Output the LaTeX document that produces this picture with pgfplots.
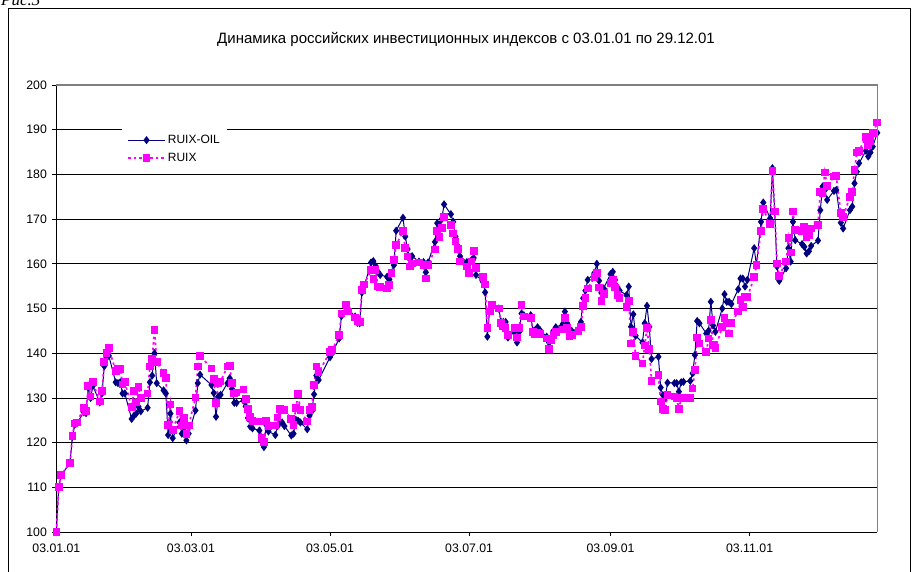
\documentclass[border=0pt]{standalone}
\usepackage{fontspec}
\setmainfont{Liberation Sans}
\newfontfamily\seriffont{Liberation Serif}
\usepackage{pgfplots}
\usepackage{pgfplotstable}
\pgfplotsset{compat=1.18}
\definecolor{oil}{RGB}{0,0,128}
\definecolor{ruix}{RGB}{255,0,255}
\definecolor{pgray}{RGB}{128,128,128}

\pgfplotstableread{
day oil ruix
0 100 100
1 110 110
2 112.6 112.7
6 115.5 115.5
7 121.3 121.4
8 124.0 124.3
9 124.3 124.5
12 126.8 127.7
13 126.6 127.0
14 132.3 132.7
15 130.0 130.3
16 132.7 133.5
19 129.0 129.2
20 131.0 131.5
21 137.1 138.0
22 139.1 140.1
23 139.4 141.1
26 133.5 136.0
27 133.3 136.4
28 133.5 136.5
29 131.0 133.0
30 131.0 133.5
33 125.3 128.0
34 126.0 131.6
35 126.5 129.0
36 128.0 132.4
37 127.0 130.0
40 127.8 131.0
41 133.5 137.0
42 135.0 138.7
43 140.0 145.2
44 133.3 138.0
47 131.7 135.5
48 131.0 134.5
49 121.7 124.0
50 126.5 128.5
51 121.0 122.8
54 124.5 127.0
55 122.0 123.8
56 122.5 125.5
57 120.5 122.0
58 122.0 123.8
61 127.2 130.1
62 133.3 137.0
63 135.2 139.4
68 132.9 136.6
69 131.1 134.2
70 125.8 128.8
71 130.3 133.3
72 130.7 133.7
75 133.3 137.0
76 134.4 137.2
77 132.0 133.3
78 128.9 131.0
79 128.9 131.2
82 129.4 131.9
83 128.1 129.8
84 125.5 127.5
85 123.6 125.8
86 123.2 124.8
89 122.7 124.7
90 120.5 121.0
91 119.0 120.2
92 124.0 124.9
93 122.5 123.7
96 121.7 123.8
97 123.7 125.6
98 124.5 127.5
99 124.5 127.3
100 123.7 127.3
103 121.6 125.3
104 122.0 124.0
105 125.1 127.7
106 124.9 130.8
107 124.5 127.3
110 123.0 124.7
111 126.0 127.3
112 127.0 128.0
113 130.8 132.9
114 135.0 137.0
115 134.0 135.7
120 139.1 140.3
121 140.0 140.7
124 143.3 144.1
125 148.3 148.9
127 149.5 150.9
128 149.9 149.3
131 148.2 148.0
132 146.8 147.1
133 146.7 147.0
134 153.6 154.1
135 155.0 155.4
138 160.3 158.6
139 160.6 156.6
140 159.5 158.6
141 158.2 154.9
142 157.5 154.8
145 157.1 154.5
146 156.5 155.3
147 158.0 157.9
148 159.7 160.8
149 167.4 164.2
152 170.3 167.3
153 166.1 163.6
154 163.3 161.6
155 161.0 159.4
156 161.7 160.1
159 160.5 160.3
161 160.4 159.7
162 158.1 156.7
163 160.3 159.7
166 164.9 163.2
167 169.1 167.3
168 168.7 166.0
169 170.0 168.0
170 173.3 170.5
173 171.1 168.7
174 169.4 166.8
175 166.1 165.0
176 164.0 163.3
177 161.7 160.5
180 160.4 159.4
181 158.5 157.9
182 160.8 160.5
183 161.3 162.9
184 157.5 159.0
187 156.0 157.1
188 153.6 155.4
189 143.7 145.7
190 149.7 149.3
191 150.5 150.8
194 150.0 150.0
195 147.0 146.8
196 147.0 146.0
197 147.0 145.6
198 143.5 144.0
201 144.8 145.6
202 142.4 143.5
203 144.8 145.6
204 148.9 150.8
205 148.5 148.2
208 148.5 147.8
209 145.0 144.8
210 145.2 144.3
211 145.8 144.6
212 145.2 144.3
215 143.7 143.3
216 142.4 140.9
217 143.5 143.0
218 145.0 144.0
219 145.8 144.8
222 146.5 145.3
223 149.3 147.8
224 146.7 145.7
225 145.2 143.8
226 145.0 144.0
229 145.5 145.0
230 147.0 145.8
231 152.3 150.6
232 154.0 152.4
233 156.4 154.5
236 158.0 157.0
237 160.0 157.9
238 156.2 154.7
239 153.5 151.7
240 154.5 153.2
243 157.7 155.6
244 158.2 156.4
245 156.4 154.7
246 154.8 153.0
247 154.0 152.3
250 153.0 150.4
251 154.9 151.7
252 145.9 142.2
253 148.7 144.7
254 143.9 139.4
257 142.4 137.7
258 146.7 141.7
259 150.6 145.7
260 145.9 140.9
261 138.7 133.8
264 139.2 135.1
265 132.3 129.2
266 130.6 127.5
267 130.0 127.3
268 133.4 130.6
271 133.3 130.3
272 133.3 130.0
273 131.4 127.5
274 133.5 130.0
275 133.6 130.0
278 133.8 130.0
279 135.5 132.1
280 139.6 136.2
281 147.2 143.5
282 146.7 142.2
285 144.4 140.3
286 145.0 143.3
287 151.5 147.4
288 146.2 141.8
289 144.8 141.1
292 150.0 145.9
293 153.2 147.8
294 151.5 146.8
295 151.5 144.4
296 151.0 146.8
299 154.3 149.3
300 156.7 151.9
301 156.7 150.3
302 154.9 152.5
303 156.4 152.5
306 163.5 157.0
307 159.7 159.7
309 169.4 167.4
310 173.7 172.2
313 170.2 168.9
314 181.4 180.8
315 171.7 171.7
316 159.4 160.1
317 156.2 157.3
320 159.0 160.5
321 163.5 165.7
322 160.5 162.5
323 169.4 171.7
324 165.3 167.6
327 164.4 167.4
328 163.8 168.3
329 162.3 165.9
330 162.8 166.5
331 164.0 167.9
334 165.2 168.7
335 172.0 176.1
336 177.3 175.8
337 176.5 180.4
338 174.3 177.4
341 176.3 179.5
342 176.5 179.6
344 169.2 171.3
345 167.9 170.5
348 172.0 175.0
349 172.8 176.1
350 178.0 181.0
351 180.6 184.9
352 182.5 185.3
355 185.3 188.3
356 184.0 186.6
357 184.9 187.5
358 186.2 189.2
360 189.3 191.6
}\datatable

\begin{document}
\begin{tikzpicture}[x=1pt,y=1pt]
\path[use as bounding box] (0,0) rectangle (912,571);
\begin{scope}
\clip (0,0) rectangle (912,571);
\draw[line width=1pt] (8.7,-5) -- (8.7,562.7) -- (910.3,562.7) -- (910.3,-5);
\node[anchor=base west, inner sep=0pt, font=\seriffont\itshape\fontsize{17}{19}\selectfont] at (1,565) {Рис.3};
\end{scope}
\node[anchor=base, inner sep=0pt, font=\fontsize{15}{17}\selectfont] at (466,527) {Динамика российских инвестиционных индексов с 03.01.01 по 29.12.01};
\begin{axis}[
  at={(56.4pt,39pt)}, anchor=south west,
  scale only axis, width=820.9pt, height=447pt,
  xmin=0, xmax=360, ymin=100, ymax=200,
  clip=false,
  axis lines=left,
  axis line style={-, black, line width=1pt},
  xtick={0,59,120,181,243,304},
  xticklabels={03.01.01,03.03.01,03.05.01,03.07.01,03.09.01,03.11.01},
  ytick={100,110,...,200},
  ymajorgrids,
  major grid style={black, line width=0.8pt},
  tick align=outside,
  major tick length=4pt,
  tick style={black, line width=0.8pt},
  /pgf/number format/assume math mode=true,
  ticklabel style={font=\fontsize{12.3}{14}\selectfont},
  xticklabel style={yshift=-4pt},
  yticklabel style={xshift=-2pt},
  legend style={at={(0.0799,0.9105)}, anchor=north west, draw=none, fill=white,
    font=\fontsize{12}{14}\selectfont, inner xsep=5pt, inner ysep=8pt, row sep=3.7pt,
    cells={anchor=west}},
  legend cell align=left,
  legend image code/.code={\draw[mark repeat=2,mark phase=2,#1] plot coordinates {(0pt,0pt) (18.5pt,0pt) (37pt,0pt)};},
  after end axis/.code={\draw[pgray, line width=1.6pt] (rel axis cs:0,1) -- (rel axis cs:1,1) -- (rel axis cs:1,0);},
]
\addplot[oil, line width=1pt, mark=diamond*, mark size=3.3pt, mark options={solid, fill=oil, draw=oil}] table[x=day,y=oil]{\datatable};
\addlegendentry{RUIX-OIL}
\addplot[ruix, line width=1.7pt, dash pattern=on 2.5pt off 3pt, mark=square*, mark size=3pt, mark options={solid, fill=ruix, draw=ruix}] table[x=day,y=ruix]{\datatable};
\addlegendentry{RUIX}
\end{axis}
\end{tikzpicture}
\end{document}
